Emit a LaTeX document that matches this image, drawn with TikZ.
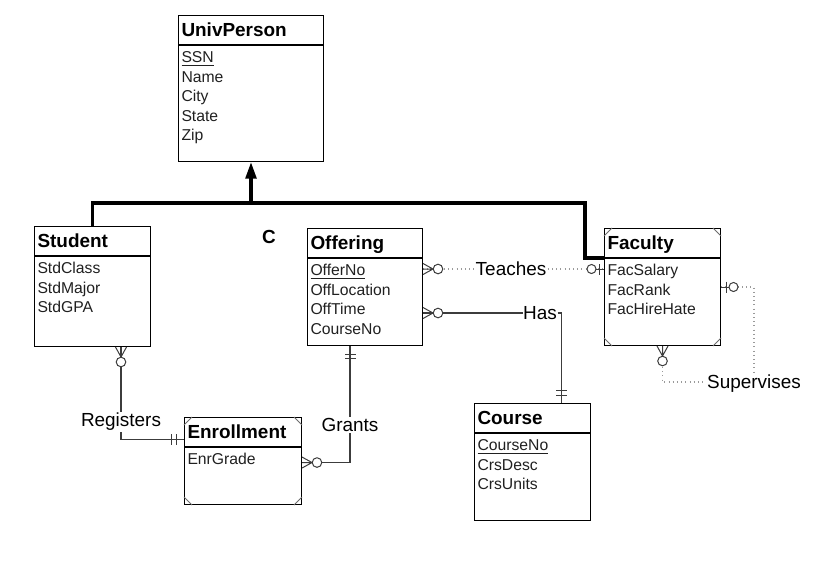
\documentclass[tikz,border=0pt]{standalone}
\usepackage{fontspec}
\setmainfont{Liberation Sans}
\usetikzlibrary{arrows.meta,calc}
\definecolor{clinea}{HTML}{3C3C3C}
\definecolor{cpunto}{HTML}{9A9A9A}
\definecolor{ctexto}{HTML}{202020}
\tikzset{
  titulo/.style={draw=black,line width=0.75pt,anchor=north west,align=left,
                 text width=#1,inner xsep=2.25pt,inner ysep=0pt,
                 text height=15.6pt,text depth=6.15pt,
                 font=\fontsize{14.2}{17}\selectfont\bfseries},
  campos/.style 2 args={draw=black,line width=0.75pt,anchor=north west,align=left,
                 text width=#1,inner xsep=2.25pt,inner ysep=0pt,
                 text height=13pt,text depth=#2,text=ctexto,
                 font=\fontsize{11.8}{14.55}\selectfont},
  rel/.style={draw=clinea,line width=0.8pt},
  relp/.style={draw=cpunto,line width=0.8pt,dash pattern=on 0.75pt off 2.4pt},
  gen/.style={draw=black,line width=2.6pt},
  et/.style={font=\fontsize{14.2}{17}\selectfont,inner sep=1pt},
  esq/.style={draw=cpunto!70!black,line width=0.6pt},
  zmuchos/.pic={\draw[clinea,line width=0.75pt,solid] (0,-5.5) -- (10,0) -- (0,5.5) (0,0) -- (10,0);
                \draw[clinea,line width=0.75pt,solid,fill=white] (15,0) circle [radius=3.6pt];},
  zuno/.pic={\draw[clinea,line width=0.75pt,solid] (5,-5.5) -- (5,5.5) (0,0) -- (8,0);
             \draw[clinea,line width=0.75pt,solid,fill=white] (12.5,0) circle [radius=3.4pt];},
  unouno/.pic={\draw[clinea,line width=0.75pt,solid] (8,-5.5) -- (8,5.5) (12.5,-5.5) -- (12.5,5.5) (0,0) -- (14,0);},
}

\begin{document}
\begin{tikzpicture}[x=0.75pt,y=-0.75pt]

\useasboundingbox (0,0) rectangle (816,569);

% entidades
\node[titulo=104.25pt] (univ) at (178,15) {UnivPerson};
\node[campos={104.25pt}{74pt}] (univ-b) at (univ.south west)
  {\underline{SSN}\\Name\\City\\State\\Zip};

\node[titulo=82.5pt] (stu) at (34,226) {Student};
\node[campos={82.5pt}{54.5pt}] (stu-b) at (stu.south west)
  {StdClass\\StdMajor\\StdGPA};

\node[titulo=81.75pt] (off) at (307,228) {Offering};
\node[campos={81.75pt}{52.25pt}] (off-b) at (off.south west)
  {\underline{OfferNo}\\OffLocation\\OffTime\\CourseNo};

\node[titulo=82.5pt] (fac) at (604,228) {Faculty};
\node[campos={82.5pt}{52.25pt}] (fac-b) at (fac.south west)
  {FacSalary\\FacRank\\FacHireHate};

\node[titulo=82.5pt] (cou) at (474,403) {Course};
\node[campos={82.5pt}{52.25pt}] (cou-b) at (cou.south west)
  {\underline{CourseNo}\\CrsDesc\\CrsUnits};

\node[titulo=83.25pt] (enr) at (184,417) {Enrollment};
\node[campos={83.25pt}{29.75pt}] (enr-b) at (enr.south west) {EnrGrade};

\foreach \n/\a/\dx/\dy in {fac/north west/6pt/-6pt, fac/north east/-6pt/-6pt,
    fac-b/south west/6pt/6pt, fac-b/south east/-6pt/6pt,
    enr/north west/6pt/-6pt, enr/north east/-6pt/-6pt,
    enr-b/south west/6pt/6pt, enr-b/south east/-6pt/6pt}
  \draw[esq] ([yshift=\dy]\n.\a) -- ([xshift=\dx]\n.\a);

\node[font=\fontsize{14.2}{17}\selectfont\bfseries] (c) at (269,237) {C};

% generalizacion
\coordinate (gj) at (251,203);
\coordinate (gk) at (585,203);
\draw[gen] (stu.north) |- (gk) |- (fac.south west);
\draw[gen,-{Triangle[length=12.5pt,width=8pt]}] (gj) -- (gj |- univ-b.south);

% relaciones
\node[et] (tea) at (511,269) {Teaches};
\node[et,inner xsep=0.3pt] (has) at (540,313) {Has};
\node[et] (reg) at (121,422) {Registers};
\node[et] (gra) at (350,425) {Grants};
\node[et] (sup) at (754,384) {Supervises};

\draw[relp] (off-b.east |- tea) -- (tea.west);
\draw[relp] (tea.east) -- (fac-b.west |- tea);
\draw[rel] (off-b.east |- has) -- (has.west);
\draw[rel] (has.east) -| ([xshift=21.75pt]cou.north);
\draw[rel] (stu-b.south -| reg) -- (reg.north);
\draw[rel] (reg.south) |- ([yshift=-5.6pt]enr.west);
\draw[rel] (off-b.south -| gra) -- (gra.north);
\draw[rel] (gra.south) |- ([yshift=10.1pt]enr-b.east);
\draw[relp] ([yshift=11.25pt]fac-b.east) -| (sup.north);
\draw[relp] (fac-b.south) |- ([yshift=1.5pt]sup.west);

% cardinalidades
\path (off-b.east |- tea) pic{zmuchos};
\path (fac-b.west |- tea) pic[rotate=180]{zuno};
\path (off-b.east |- has) pic{zmuchos};
\path ([xshift=21.75pt]cou.north) pic[rotate=90]{unouno};
\path (stu-b.south -| reg) pic[rotate=-90]{zmuchos};
\path ([yshift=-5.6pt]enr.west) pic[rotate=180]{unouno};
\path (off-b.south -| gra) pic[rotate=-90]{unouno};
\path ([yshift=10.1pt]enr-b.east) pic{zmuchos};
\path ([yshift=11.25pt]fac-b.east) pic{zuno};
\path (fac-b.south) pic[rotate=-90]{zmuchos};

\end{tikzpicture}
\end{document}
